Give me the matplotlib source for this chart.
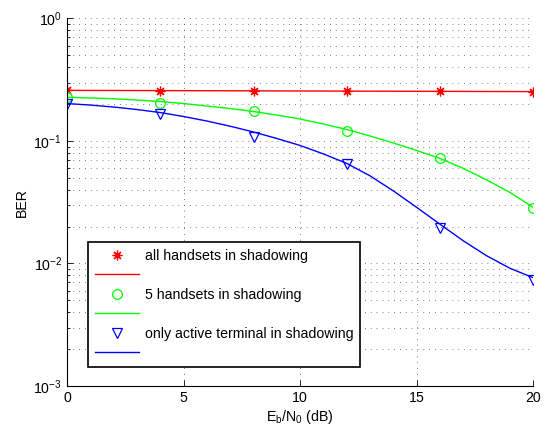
import matplotlib
matplotlib.use("Agg")
import matplotlib.pyplot as plt
from matplotlib.lines import Line2D
from matplotlib.ticker import LogLocator, NullFormatter, FixedLocator

plt.rcParams['font.family'] = ['Liberation Sans', 'DejaVu Sans']
plt.rcParams['mathtext.fontset'] = 'custom'
plt.rcParams['mathtext.rm'] = 'Liberation Sans'
plt.rcParams['mathtext.it'] = 'Liberation Sans'

# Simulated points (Eb/N0 in dB vs. BER)
snr_points = [0, 4, 8, 12, 16, 20]
ber_all = [0.259, 0.258, 0.257, 0.256, 0.255, 0.253]
ber_five = [0.2275, 0.206, 0.175, 0.120, 0.073, 0.0286]
ber_active = [0.200, 0.1675, 0.107, 0.0652, 0.0194, 0.00734]

# Fitted curves, 1 dB steps
snr_curve = list(range(0, 21))
fit_all = [0.2590, 0.2587, 0.2584, 0.2581, 0.2578, 0.2575, 0.2572, 0.2569,
           0.2566, 0.2563, 0.2560, 0.2557, 0.2554, 0.2551, 0.2548, 0.2545,
           0.2542, 0.2539, 0.2536, 0.2533, 0.2530]
fit_five = [0.2275, 0.2245, 0.2212, 0.2159, 0.2099, 0.2021, 0.1929, 0.1840,
            0.1740, 0.1629, 0.1511, 0.1375, 0.1241, 0.1098, 0.0963, 0.0837,
            0.0720, 0.0597, 0.0481, 0.0380, 0.0287]
fit_active = [0.2021, 0.1965, 0.1893, 0.1806, 0.1707, 0.1584, 0.1455, 0.1320,
              0.1184, 0.1048, 0.0919, 0.0784, 0.0656, 0.0519, 0.0391, 0.0287,
              0.0209, 0.01531, 0.01156, 0.00914, 0.00765]

labels = ['all handsets in shadowing', '5 handsets in shadowing',
          'only active terminal in shadowing']
colors = ['#ff0000', '#00ff00', '#0000ff']
markers = [(8, 2, 0), 'o', 'v']
fs = 10.2

fig = plt.figure(figsize=(5.52, 4.32), dpi=100)
ax = fig.add_axes([0.1214, 0.1065, 0.9661 - 0.1214, 0.9572 - 0.1065])

point_sets = [ber_all, ber_five, ber_active]
fit_sets = [fit_all, fit_five, fit_active]
handles = []
for pts, fit, c, m, lab in zip(point_sets, fit_sets, colors, markers, labels):
    ax.semilogy(snr_points, pts, linestyle='none', marker=m, markersize=7,
                markerfacecolor='none', markeredgecolor=c, markeredgewidth=0.9)
    ax.semilogy(snr_curve, fit, color=c, linewidth=1.0)
    handles.append(Line2D([], [], linestyle='none', marker=m, markersize=7,
                          markerfacecolor='none', markeredgecolor=c,
                          markeredgewidth=0.9))
    handles.append(Line2D([], [], color=c, linewidth=1.0))

ax.set_xlim(0, 20)
ax.set_ylim(1e-3, 1)
ax.xaxis.set_major_locator(FixedLocator([0, 5, 10, 15, 20]))
ax.yaxis.set_major_locator(LogLocator(base=10, numticks=10))
ax.yaxis.set_minor_locator(LogLocator(base=10, subs=range(2, 10), numticks=10))
ax.yaxis.set_minor_formatter(NullFormatter())

grid_style = dict(color='#555555', linestyle=(0, (1, 6)), linewidth=0.6)
ax.grid(True, which='major', axis='both', **grid_style)
ax.grid(True, which='minor', axis='y', **grid_style)

for side in ['top', 'right']:
    ax.spines[side].set_visible(False)
for side in ['left', 'bottom']:
    ax.spines[side].set_linewidth(0.8)
ax.tick_params(direction='in', which='both', labelsize=fs, width=0.6)
ax.tick_params(which='major', length=4)
ax.tick_params(which='minor', length=2)

ax.set_xlabel(r'E$_{\mathdefault{b}}$/N$_{\mathdefault{0}}$ (dB)', fontsize=fs,
              labelpad=2)
ax.set_ylabel('BER', fontsize=fs, labelpad=3)

leg_labels = [labels[0], '', labels[1], '', labels[2], '']
leg = ax.legend(handles, leg_labels, loc='upper left',
                bbox_to_anchor=(0.045, 0.392), borderaxespad=0,
                fontsize=fs, frameon=True, fancybox=False, framealpha=1,
                edgecolor='black', handlelength=3.1, handletextpad=0.4,
                labelspacing=0.38, borderpad=0.5)
leg.get_frame().set_linewidth(1.2)

fig.savefig('out.png', dpi=100)
